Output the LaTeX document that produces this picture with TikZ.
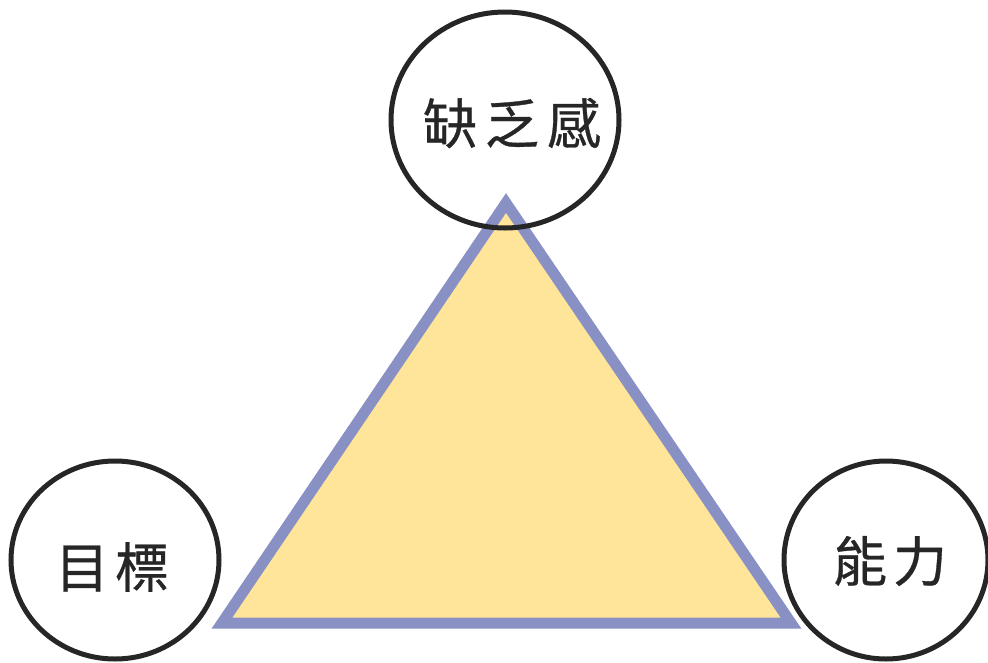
\documentclass[tikz,border=0pt]{standalone}
\usepackage{fontspec}
\newfontfamily\cjk[FakeBold=0.6]{Noto Sans CJK TC}
\definecolor{trifill}{HTML}{FFE599}
\definecolor{triline}{HTML}{8890C4}
\definecolor{ringcol}{HTML}{262626}
\tikzset{
  ring/.style={draw=ringcol, line width=5pt},
  lbl/.style={font=\cjk\fontsize{54}{54}\selectfont, text=ringcol, inner sep=0pt}
}
\begin{document}
\begin{tikzpicture}[x=1pt,y=-1pt]
\useasboundingbox (0,0) rectangle (988,662);
% triangle
\coordinate (A) at (506,203);
\coordinate (B) at (222,623);
\coordinate (C) at (791,623);
\draw[fill=trifill, draw=triline, line width=11pt, line join=miter] (A) -- (B) -- (C) -- cycle;
% circles
\draw[ring] (505,120) ellipse [x radius=114, y radius=108];
\draw[ring] (115,560) ellipse [x radius=104, y radius=99];
\draw[ring] (886,560) ellipse [x radius=102, y radius=99];
% labels
\node[lbl] (top) at (512,123) {缺\hspace{8pt}乏\hspace{8pt}感};
\node[lbl] (left) at (112,567) {目\hspace{6pt}標};
\node[lbl] (right) at (890,561) {能\hspace{6pt}力};
\end{tikzpicture}
\end{document}
